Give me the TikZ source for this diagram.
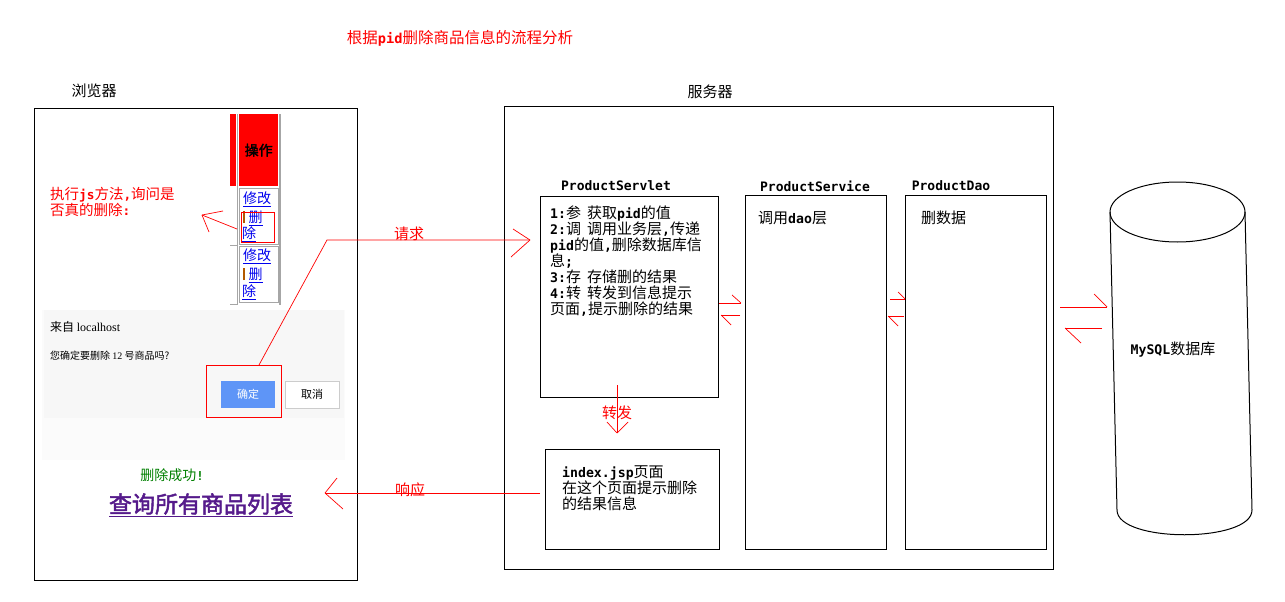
\documentclass[tikz,border=0pt]{standalone}
\usepackage{fontspec}
\setmainfont{Noto Sans CJK SC}[AutoFakeBold=2]
\setmonofont{DejaVu Sans Mono}[Scale=0.88]
\newfontfamily\serifpart{Liberation Serif}
\newcommand\mb[1]{{\ttfamily\bfseries #1}}
\newcommand\gapsp{\hspace{6pt}}
\definecolor{lnk}{HTML}{0000EE}
\definecolor{vis}{HTML}{551A8B}
\definecolor{okgreen}{HTML}{008000}
\definecolor{btnblue}{HTML}{5E95F7}
\definecolor{dlgbg}{HTML}{F7F7F7}
\definecolor{dlgbg2}{HTML}{FBFBFB}
\newcommand\sepbar{\textcolor{orange!70!black}{\rule[-1pt]{1.5pt}{12pt}}}
\begin{document}
\begin{tikzpicture}[x=1pt,y=-1pt,
  frame/.style={draw=black,line width=1.1pt,inner sep=0pt,anchor=north west},
  redline/.style={draw=red,line width=0.7pt},
  txt/.style={inner sep=0pt,anchor=north west,align=left,font=\fontsize{15}{16}\selectfont},
  heading/.style={inner sep=0pt,font=\ttfamily\bfseries\fontsize{14.8}{16}\selectfont},
  redlbl/.style={inner sep=0pt,text=red,font=\fontsize{15}{16}\selectfont},
  link/.style={inner sep=0pt,text=lnk,font=\fontsize{14}{16}\selectfont},
]
\useasboundingbox (0,0) rectangle (1285,602);
\fill[white] (0,0) rectangle (1285,602);

% title and headings
\node[redlbl,font=\fontsize{15.5}{16}\selectfont] (ttl) at (460,38) {根据\mb{pid}删除商品信息的流程分析};
\node[inner sep=0pt,font=\fontsize{15}{16}\selectfont] (hb) at (94,91) {浏览器};
\node[inner sep=0pt,font=\fontsize{15}{16}\selectfont] (hs) at (710,92) {服务器};

% frames
\node[frame,minimum width=323pt,minimum height=472pt] (browser) at (34,108) {};
\node[frame,minimum width=549pt,minimum height=463pt] (server) at (504,106) {};
\node[frame,minimum width=178pt,minimum height=201pt] (servlet) at (540,196) {};
\node[frame,minimum width=141pt,minimum height=354pt] (service) at (745,195) {};
\node[frame,minimum width=141pt,minimum height=354pt] (dao) at (905,195) {};
\node[frame,minimum width=174pt,minimum height=100pt] (jsp) at (545,449) {};

\node[heading] (hservlet) at (616,186) {ProductServlet};
\node[heading] (hservice) at (815,186) {ProductService};
\node[heading] (hdao) at (951,186) {ProductDao};

\node[txt] (servlettxt) at (550,206) {\mb{1:}参\gapsp 获取\mb{pid}的值\\
\mb{2:}调\gapsp 调用业务层\mb{,}传递\\
\mb{pid}的值\mb{,}删除数据库信\\
息\mb{;}\\
\mb{3:}存\gapsp 存储删的结果\\
\mb{4:}转\gapsp 转发到信息提示\\
页面\mb{,}提示删除的结果};
\node[txt] (servicetxt) at (758,211) {调用\mb{dao}层};
\node[txt] (daotxt) at (921,211) {删数据};
\node[txt] (jsptxt) at (562,466) {\mb{index.jsp}页面\\在这个页面提示删除\\的结果信息};

% database cylinder
\draw[line width=1pt] (1177.5,212) ellipse [x radius=67.5, y radius=30];
\draw[line width=1pt] (1110,212) -- (1117,510);
\draw[line width=1pt] (1245,212) -- (1252,510);
\draw[line width=1pt] (1117,510) .. controls (1117,543) and (1252,543) .. (1252,510);
\node[inner sep=0pt,font=\fontsize{15}{16}\selectfont] (db) at (1173,350) {\mb{MySQL}数据库};

% browser screenshot: table
\fill[red] (230,114) rectangle (236,186);
\node[fill=red,inner sep=0pt,anchor=north west,minimum width=39pt,minimum height=72pt,font=\bfseries\fontsize{14}{16}\selectfont] (op) at (239,114) {操作};
\draw[gray!70,line width=1.2pt] (237.5,114) -- (237.5,305);
\draw[gray!70,line width=1.2pt] (280,114) -- (280,305);
\draw[gray!70,line width=1pt] (239.5,188) rectangle (278,244);
\draw[gray!70,line width=1pt] (239.5,246) rectangle (278,302);
\draw[gray!70,line width=1pt] (230,245) -- (237,245);
\draw[gray!70,line width=1pt] (230,304) -- (237,304);
\node[link] (edit1) at (257,199) {\underline{修改}};
\node[inner sep=0pt,anchor=west,font=\fontsize{14}{16}\selectfont] (del1a) at (243,218) {\sepbar\hspace{4pt}\textcolor{lnk}{\underline{删}}};
\node[link] (del1b) at (249,234) {\underline{除}};
\node[link] (edit2) at (257,256) {\underline{修改}};
\node[inner sep=0pt,anchor=west,font=\fontsize{14}{16}\selectfont] (del2a) at (243,275) {\sepbar\hspace{4pt}\textcolor{lnk}{\underline{删}}};
\node[link] (del2b) at (249,292) {\underline{除}};
\node[draw=red,line width=0.8pt,inner sep=0pt,anchor=north west,minimum width=33pt,minimum height=30pt] (delbox) at (241,212) {};

% dialog
\fill[dlgbg2] (42,310) rectangle (345,460);
\fill[dlgbg] (44,310) rectangle (344,418);
\node[inner sep=0pt,anchor=west,font=\fontsize{12}{14}\selectfont] (from) at (50,327) {来自 {\serifpart localhost}};
\node[inner sep=0pt,anchor=west,font=\fontsize{10}{12}\selectfont] (msg) at (50,356) {您确定要删除 {\serifpart 12} 号商品吗?};
\node[fill=btnblue,text=white,inner sep=0pt,anchor=north west,minimum width=54pt,minimum height=27pt,font=\fontsize{11}{13}\selectfont] (okbtn) at (221,381) {确定};
\node[draw=gray!40,fill=white,inner sep=0pt,anchor=north west,minimum width=54pt,minimum height=27pt,font=\fontsize{11}{13}\selectfont] (cancel) at (285,381) {取消};
\node[draw=red,line width=0.8pt,inner sep=0pt,anchor=north west,minimum width=75pt,minimum height=52pt] (okbox) at (206,365) {};

\node[inner sep=0pt,text=okgreen,font=\fontsize{14}{16}\selectfont] (succ) at (172,475) {删除成功\mb{!}};
\node[inner sep=0pt,text=vis,font=\bfseries\fontsize{23}{26}\selectfont] (query) at (201,505) {\underline{查询所有商品列表}};

% annotation
\node[txt,text=red,font=\fontsize{14.5}{16}\selectfont] (note) at (50,187) {执行\mb{js}方法\mb{,}询问是\\否真的删除\mb{:}};

% connectors
\coordinate (qa) at (259,365);
\coordinate (qb) at (327,240);
\coordinate (qc) at (530,240);
\draw[redline] (qa) -- (qb) -- (qc);
\draw[redline] (qc) -- ++(-17,-11);
\draw[redline] (qc) -- ++(-19,17);
\node[redlbl] (lq) at (409,234) {请求};

\coordinate (n1) at (237,229);
\coordinate (n2) at (202,215);
\draw[redline] (n1) -- (n2);
\draw[redline] (n2) -- ++(21,-4);
\draw[redline] (n2) -- ++(7,17);

\coordinate (s1a) at (719,303); \coordinate (s1b) at (741,303);
\draw[redline] (s1a) -- (s1b); \draw[redline] (s1b) -- ++(-9,-8);
\coordinate (s2a) at (740,315); \coordinate (s2b) at (721,315);
\draw[redline] (s2a) -- (s2b); \draw[redline] (s2b) -- ++(10,10);

\coordinate (d1a) at (890,299); \coordinate (d1b) at (905,299);
\draw[redline] (d1a) -- (d1b); \draw[redline] (d1b) -- ++(-7,-7);
\coordinate (d2a) at (904,316); \coordinate (d2b) at (888,316);
\draw[redline] (d2a) -- (d2b); \draw[redline] (d2b) -- ++(10,10);

\coordinate (m1a) at (1060,307); \coordinate (m1b) at (1107,307);
\draw[redline] (m1a) -- (m1b); \draw[redline] (m1b) -- ++(-13,-13);
\coordinate (m2a) at (1102,328); \coordinate (m2b) at (1065,328);
\draw[redline] (m2a) -- (m2b); \draw[redline] (m2b) -- ++(16,15);

\coordinate (f1) at (617,385); \coordinate (f2) at (617,433);
\draw[redline] (f1) -- (f2);
\draw[redline] (f2) -- ++(-10,-11);
\draw[redline] (f2) -- ++(11,-11);
\node[redlbl] (lf) at (617,413) {转发};

\coordinate (r1) at (540,493); \coordinate (r2) at (325,493);
\draw[redline] (r1) -- (r2);
\draw[redline] (r2) -- ++(12,-15);
\draw[redline] (r2) -- ++(18,16);
\node[redlbl] (lr) at (410,490) {响应};
\end{tikzpicture}
\end{document}
